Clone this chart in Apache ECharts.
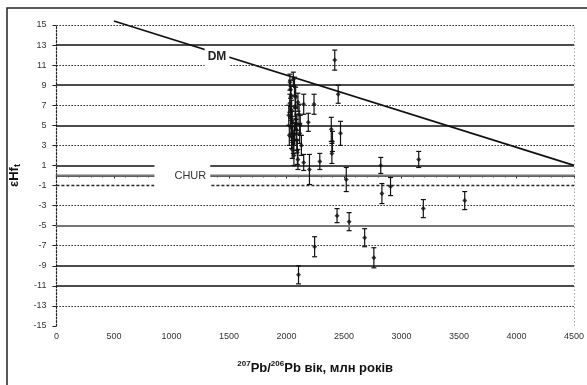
<!DOCTYPE html>
<html><head><meta charset="utf-8">
<script src="https://cdn.jsdelivr.net/npm/echarts@6/dist/echarts.min.js"></script>
<style>html,body{margin:0;padding:0;background:#fff}#c{width:587px;height:385px}</style>
</head><body><div id="c"></div>
<script>
// ---- data ----
const yTicks = [-15,-13,-11,-9,-7,-5,-3,-1,1,3,5,7,9,11,13,15];
const xTicks = [0,500,1000,1500,2000,2500,3000,3500,4000,4500];
const ages = [2030,2035,2040,2030,2045,2035,2050,2040,2055,2045,2060,2050,2065,2070,2075,2080,2085,2090,2095,2100,2110,2115,2060,2080,
  2020,2025,2120,2130,2100,2070,2090,
  2150,2190,2240,2200,2150,2290,2390,2400,2395,2470,2450,2420,2520,2820,2830,2905,3150,2440,2545,2680,2245,2760,2105,3190,3550];
const ehf = [9.3,8.6,7.9,7.2,6.5,5.9,5.3,4.8,4.3,3.8,3.2,2.6,2.0,8.9,6.9,5.6,4.6,3.5,2.3,1.6,6.1,4.2,9.6,7.8,
  6.0,4.0,5.0,3.0,7.3,4.1,5.1,
  7.1,5.3,7.1,0.6,1.3,1.4,4.6,3.4,2.2,4.2,8.1,11.5,-0.4,1.0,-1.8,-1.1,1.6,-4.0,-4.6,-6.2,-7.1,-8.2,-9.9,-3.3,-2.5];
const errs = [0.8,0.9,1.0,0.9,1.0,1.0,1.1,0.9,1.0,1.1,1.0,0.9,1.0,0.9,1.0,1.1,1.0,1.0,1.2,1.0,1.0,1.0,0.7,1.0,
  1.0,1.0,1.0,1.0,0.9,1.1,1.0,
  1.0,0.9,1.0,1.5,0.8,0.8,1.2,1.0,1.0,1.2,0.9,1.0,1.2,0.8,1.0,0.9,0.8,0.7,0.9,0.9,1.0,1.0,0.9,0.9,0.9];
const dmAges = [500, 4500];
const dmValues = [15.4, 1.0];
const churAges = [0, 4500];
const churValues = [0, 0];
const solidLevels = [13, 9, 5, 1, -9, -11];
const dottedLevels = [15, 11, 7, 3, -3, -7, -13];
const dashedLevels = [-1];
const grayLevels = [-5];
const dmLabel = {age: 1396, value: 11.8, text: 'DM'};
const churLabel = {age: 1095, value: 0, text: 'CHUR'};

// ---- chart ----
const chart = echarts.init(document.getElementById('c'));
const pts = ages.map((a, i) => [a, ehf[i], errs[i]]);
const gridLines = [].concat(
  solidLevels.map(v => ({yAxis: v, lineStyle: {type: 'solid', color: '#111', width: 1.6}})),
  dottedLevels.map(v => ({yAxis: v, lineStyle: {type: [1.5, 1.5], color: '#222', width: 1.2}})),
  dashedLevels.map(v => ({yAxis: v, lineStyle: {type: [3, 2], color: '#222', width: 1.4}})),
  grayLevels.map(v => ({yAxis: v, lineStyle: {type: 'solid', color: '#777', width: 1.8}})),
  [{xAxis: 4500, lineStyle: {type: [1.5, 2], color: '#aaa', width: 1}}]
);
const font = 'Liberation Sans, Arial, sans-serif';
chart.setOption({
  animation: false,
  backgroundColor: '#fff',
  graphic: [{type: 'rect', shape: {x: 7, y: 8, width: 600, height: 400}, style: {fill: 'none', stroke: '#222', lineWidth: 1.5}, silent: true}],
  grid: {left: 53, right: 12, top: 25, bottom: 59},
  xAxis: {
    type: 'value', min: 0, max: 4500, interval: 500,
    axisLine: {lineStyle: {color: '#111', width: 1.6}},
    axisTick: {show: true, length: 3, lineStyle: {color: '#222'}},
    minorTick: {show: true, splitNumber: 5, length: 2, lineStyle: {color: '#444'}},
    axisLabel: {fontSize: 9, color: '#333', fontFamily: font, margin: 6, customValues: xTicks, formatter: v => String(v)},
    splitLine: {show: false},
    name: '{sup|207}{b|Pb/}{sup|206}{b|Pb вік, млн років}',
    nameLocation: 'middle', nameGap: 34,
    nameTextStyle: {rich: {
      b: {fontSize: 13, fontWeight: 'bold', color: '#111', fontFamily: font, lineHeight: 16, verticalAlign: 'middle'},
      sup: {fontSize: 8, fontWeight: 'bold', color: '#111', fontFamily: font, verticalAlign: 'top', lineHeight: 9}
    }}
  },
  yAxis: {
    type: 'value', min: -15, max: 15, interval: 2,
    axisLine: {show: true, lineStyle: {color: '#222', width: 1.2, type: [2, 1.5]}},
    axisTick: {show: true, length: 4, lineStyle: {color: '#222'}, customValues: yTicks},
    axisLabel: {fontSize: 9, color: '#333', fontFamily: font, margin: 10, customValues: yTicks},
    splitLine: {show: false},
    name: '{b|εHf}{sub|t}',
    nameLocation: 'middle', nameGap: 30,
    nameTextStyle: {rich: {
      b: {fontSize: 13, fontWeight: 'bold', color: '#111', fontFamily: font, lineHeight: 16},
      sub: {fontSize: 9, fontWeight: 'bold', color: '#111', fontFamily: font, verticalAlign: 'bottom', lineHeight: 16}
    }}
  },
  series: [
    {
      type: 'line', name: 'grid', data: [], z: 1, silent: true,
      markLine: {silent: true, symbol: 'none', label: {show: false}, data: gridLines, animation: false}
    },
    {
      type: 'line', name: 'CHUR', z: 2, silent: true, symbol: 'none',
      data: churAges.map((a, i) => [a, churValues[i]]),
      lineStyle: {color: '#777', width: 2},
      markPoint: {
        symbol: 'rect', symbolSize: 0, silent: true,
        data: [{coord: [churLabel.age, churLabel.value]}],
        label: {show: true, position: 'inside', formatter: churLabel.text, fontSize: 11, color: '#333', fontFamily: font,
          backgroundColor: '#fff', padding: [7, 4, 7, 20]}
      }
    },
    {
      type: 'line', name: 'DM', z: 3, silent: true, symbol: 'none', clip: false,
      data: dmAges.map((a, i) => [a, dmValues[i]]),
      lineStyle: {color: '#111', width: 1.8},
      markPoint: {
        symbol: 'rect', symbolSize: 0, silent: true,
        data: [{coord: [dmLabel.age, dmLabel.value]}],
        label: {show: true, position: 'inside', formatter: dmLabel.text, fontSize: 12, fontWeight: 'bold', color: '#222', fontFamily: font,
          backgroundColor: '#fff', padding: [3, 3]}
      }
    },
    {
      type: 'custom', name: 'err', z: 4, silent: true,
      data: pts,
      renderItem: function (params, api) {
        const x = api.value(0), y = api.value(1), e = api.value(2);
        const lo = api.coord([x, y - e]), hi = api.coord([x, y + e]);
        const st = {stroke: '#111', lineWidth: 1.2};
        return {type: 'group', children: [
          {type: 'line', shape: {x1: lo[0], y1: lo[1], x2: hi[0], y2: hi[1]}, style: st},
          {type: 'line', shape: {x1: lo[0] - 2.5, y1: lo[1], x2: lo[0] + 2.5, y2: lo[1]}, style: st},
          {type: 'line', shape: {x1: hi[0] - 2.5, y1: hi[1], x2: hi[0] + 2.5, y2: hi[1]}, style: st}
        ]};
      }
    },
    {
      type: 'scatter', name: 'pts', z: 5, silent: true,
      data: pts.map(p => [p[0], p[1]]),
      symbol: 'diamond', symbolSize: 5,
      itemStyle: {color: '#111'}
    }
  ]
});
</script>
</body></html>
